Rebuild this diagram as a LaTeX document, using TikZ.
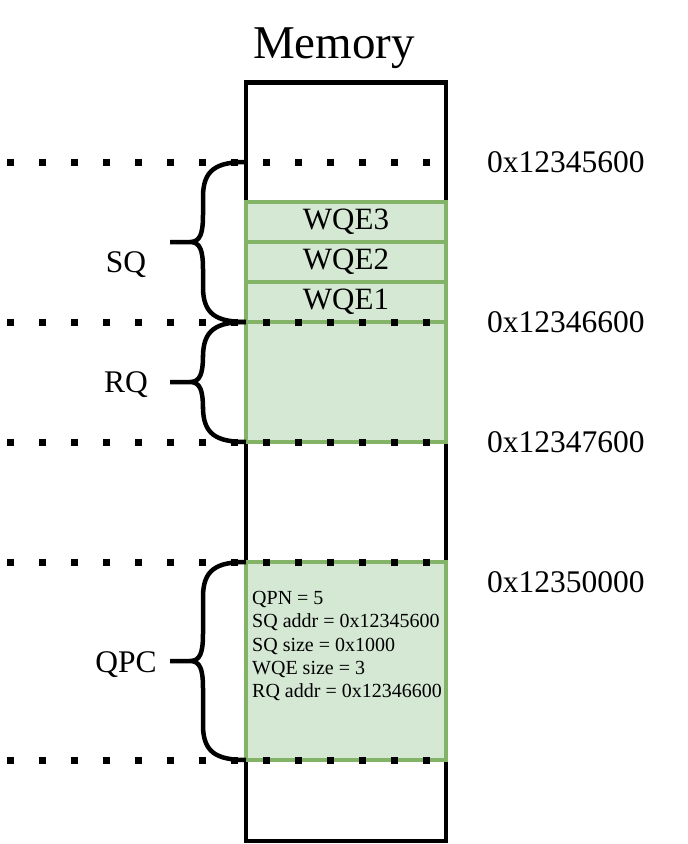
\documentclass[tikz,border=0pt]{standalone}
\usepackage{fontspec}
\setmainfont{Liberation Serif}
\usetikzlibrary{calc}

\definecolor{qfill}{HTML}{D5E8D4}
\definecolor{qline}{HTML}{82B366}

\tikzset{
  membox/.style={draw, line width=4.5pt, inner sep=0pt},
  memcell/.style={draw=qline, fill=qfill, line width=4pt, inner sep=0pt,
    minimum width=200pt, font=\fontsize{31}{36}\selectfont},
  addrline/.style={line width=7pt, dash pattern=on 7pt off 25pt},
  curly/.style={line width=4.5pt},
  bigtext/.style={inner sep=0pt, font=\fontsize{31.5}{36}\selectfont}
}

% curly brace: top end, bottom end, tip
\newcommand{\qbrace}[3]{%
  \draw[curly] (#1) .. controls ($(#1)+(-30,0)$) and ($(#1)+(-43,8)$) .. ($(#1)+(-43,35)$)
    -- ($(#3)+(33,-27)$) .. controls ($(#3)+(33,-8)$) and ($(#3)+(30,0)$) .. ($(#3)+(20,0)$)
    -- (#3)
    ($(#3)+(20,0)$) .. controls ($(#3)+(30,0)$) and ($(#3)+(33,8)$) .. ($(#3)+(33,27)$)
    -- ($(#2)+(-43,-35)$) .. controls ($(#2)+(-43,-8)$) and ($(#2)+(-30,0)$) .. (#2);}

\begin{document}
\begin{tikzpicture}[x=1pt,y=-1pt]
\useasboundingbox (0,0) rectangle (688,844);

\node[membox, minimum width=200pt, minimum height=758.5pt] (mem) at (346,461.5) {};
\node[inner sep=0pt, font=\fontsize{47}{50}\selectfont, anchor=base] (memlabel) at (334,58) {Memory};

\node[memcell, minimum height=40pt] (wqe3) at (346,222) {WQE3};
\node[memcell, minimum height=40pt] (wqe2) at (346,262) {WQE2};
\node[memcell, minimum height=40pt] (wqe1) at (346,302) {WQE1};
\node[memcell, minimum height=120pt] (rqbox) at (346,382) {};
\node[memcell, minimum height=198pt] (qpcbox) at (346,661) {};
\node[inner sep=0pt, anchor=north west, align=left, font=\fontsize{20}{23.3}\selectfont]
  (qpctext) at (252,591) {QPN = 5\\SQ addr = 0x12345600\\SQ size = 0x1000\\WQE size = 3\\RQ addr = 0x12346600};

\foreach \y in {162,322,442,562,760}
  \draw[addrline] (7,\y) -- (430,\y);

\node[bigtext, anchor=base west] (addr1) at (487,172) {0x12345600};
\node[bigtext, anchor=base west] (addr2) at (487,332) {0x12346600};
\node[bigtext, anchor=base west] (addr3) at (487,452) {0x12347600};
\node[bigtext, anchor=base west] (addr4) at (487,592) {0x12350000};

\coordinate (sqtop) at (246,162);
\coordinate (sqbot) at (246,322);
\coordinate (sqtip) at (170,242);
\coordinate (rqtop) at (246,322);
\coordinate (rqbot) at (246,442);
\coordinate (rqtip) at (170,382);
\coordinate (qpctop) at (246,562);
\coordinate (qpcbot) at (246,760);
\coordinate (qpctip) at (170,661);

\qbrace{sqtop}{sqbot}{sqtip}
\qbrace{rqtop}{rqbot}{rqtip}
\qbrace{qpctop}{qpcbot}{qpctip}

\node[bigtext, anchor=base] (sqlabel) at (126,272) {SQ};
\node[bigtext, anchor=base] (rqlabel) at (126,392) {RQ};
\node[bigtext, anchor=base] (qpclabel) at (126,672) {QPC};
\end{tikzpicture}
\end{document}
